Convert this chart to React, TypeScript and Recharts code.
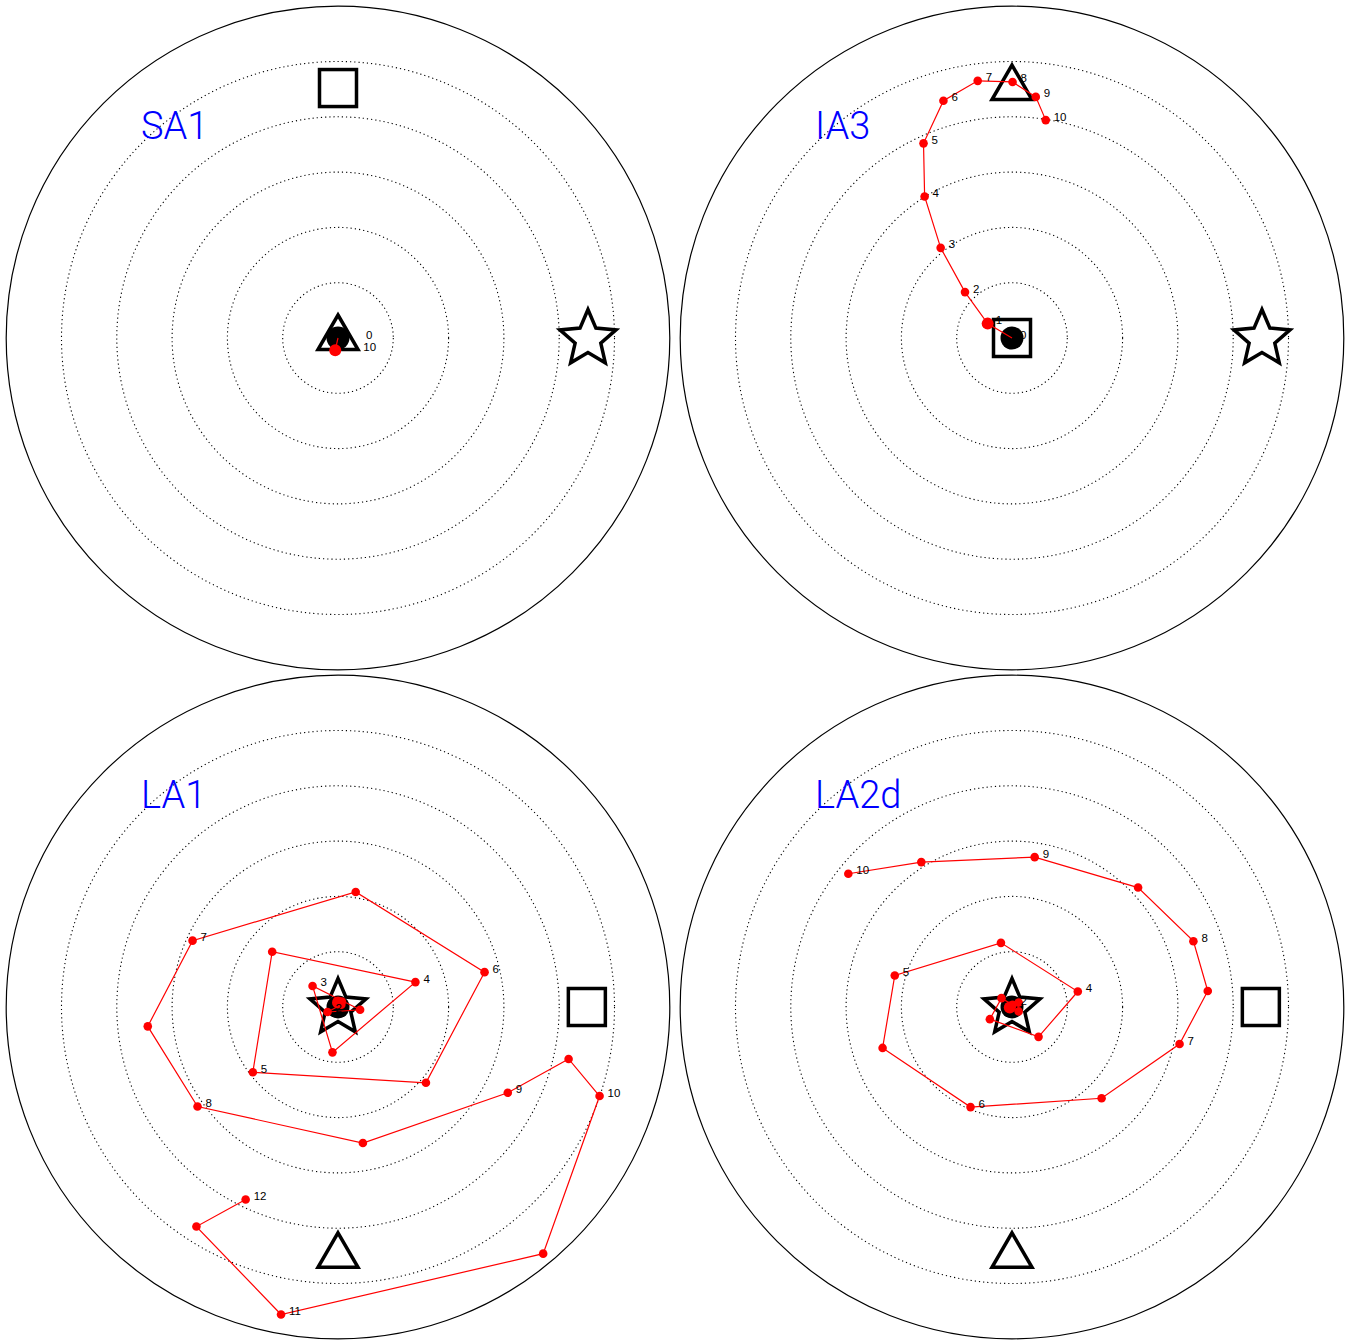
import React from 'react';
import { ScatterChart, Scatter, XAxis, YAxis, ReferenceDot } from 'recharts';

const SIZE = 676;
const LIM = 6.112;
const PX = SIZE / (2 * LIM);
const RINGS = [1, 2, 3, 4, 5];
const OUTER = 6;
const FONT = '"Liberation Sans", Arial, Helvetica, sans-serif';

// SA1
const sa1Steps = [0, 1, 2, 3, 4, 5, 6, 7, 8, 9, 10];
const sa1X = [0, -0.05, -0.04, -0.05, -0.05, -0.04, -0.05, -0.04, -0.05, -0.05, -0.05];
const sa1Y = [0, -0.22, -0.23, -0.22, -0.22, -0.23, -0.22, -0.22, -0.23, -0.22, -0.23];
const sa1Labeled = [0, 10];
const sa1MarkerKind = ['square', 'star', 'triangle'];
const sa1MarkerX = [0, 4.52, 0];
const sa1MarkerY = [4.52, 0, 0];

// IA3
const ia3Steps = [0, 1, 2, 3, 4, 5, 6, 7, 8, 9, 10];
const ia3X = [0, -0.44, -0.85, -1.29, -1.58, -1.6, -1.24, -0.62, 0.01, 0.43, 0.61];
const ia3Y = [0, 0.26, 0.83, 1.63, 2.56, 3.52, 4.29, 4.65, 4.63, 4.36, 3.94];
const ia3Labeled = [0, 1, 2, 3, 4, 5, 6, 7, 8, 9, 10];
const ia3MarkerKind = ['triangle', 'star', 'square'];
const ia3MarkerX = [0, 4.52, 0];
const ia3MarkerY = [4.52, 0, 0];

// LA1
const la1Steps = [0, 0.5, 1, 1.5, 2, 2.5, 3, 3.5, 4, 4.5, 5, 5.5, 6, 6.5, 7, 7.5, 8, 8.5, 9, 9.5, 10, 10.5, 11, 11.5, 12];
const la1X = [0, 0.07, 0.0, 0.06, -0.19, 0.4, -0.46, -0.1, 1.4, -1.19, -1.54, 1.59, 2.65, 0.32, -2.63, -3.44, -2.54, 0.45, 3.07, 4.17, 4.73, 3.71, -1.03, -2.56, -1.67];
const la1Y = [0, 0.1, 0.08, 0.04, -0.09, -0.05, 0.38, -0.82, 0.45, 1.0, -1.18, -1.37, 0.63, 2.08, 1.2, -0.35, -1.8, -2.46, -1.55, -0.94, -1.61, -4.46, -5.56, -3.97, -3.48];
const la1Labeled = [2, 3, 4, 5, 6, 7, 8, 9, 10, 11, 12];
const la1MarkerKind = ['square', 'triangle', 'star'];
const la1MarkerX = [4.5, 0, 0];
const la1MarkerY = [0, -4.5, 0];

// LA2d
const la2Steps = [0, 0.5, 1, 1.5, 2, 2.5, 3, 3.5, 4, 4.5, 5, 5.5, 6, 6.5, 7, 7.5, 8, 8.5, 9, 9.5, 10];
const la2X = [0, 0.12, -0.04, 0.12, 0.01, -0.19, -0.4, 0.48, 1.19, -0.2, -2.12, -2.34, -0.75, 1.62, 3.03, 3.54, 3.28, 2.28, 0.41, -1.64, -2.96];
const la2Y = [0, -0.08, -0.01, 0.08, 0.04, 0.16, -0.22, -0.54, 0.28, 1.16, 0.57, -0.74, -1.81, -1.65, -0.67, 0.29, 1.19, 2.16, 2.71, 2.62, 2.41];
const la2Labeled = [2, 4, 5, 6, 7, 8, 9, 10];
const la2MarkerKind = ['square', 'triangle', 'star'];
const la2MarkerX = [4.5, 0, 0];
const la2MarkerY = [0, -4.5, 0];

const starPath = (cx: number, cy: number, R: number, r: number) => {
  let d = '';
  for (let i = 0; i < 10; i++) {
    const rad = i % 2 === 0 ? R : r;
    const a = -Math.PI / 2 + (i * Math.PI) / 5;
    d += `${i === 0 ? 'M' : 'L'}${cx + rad * Math.cos(a)},${cy + rad * Math.sin(a)}`;
  }
  return d + 'Z';
};

const MarkerShape = (props: any) => {
  const { cx, cy, payload } = props;
  const common = { fill: 'none', stroke: '#000', strokeWidth: 3.5 };
  if (payload.kind === 'square') {
    return <rect x={cx - 18.5} y={cy - 18.5} width={37} height={37} {...common} />;
  }
  if (payload.kind === 'triangle') {
    return <path d={`M${cx},${cy - 23}L${cx + 20},${cy + 11.5}L${cx - 20},${cy + 11.5}Z`} {...common} />;
  }
  if (payload.kind === 'star') {
    return <path d={starPath(cx, cy + 1, 29.5, 13.5)} {...common} />;
  }
  return <circle cx={cx} cy={cy} r={11.5} fill="#000" />;
};

const makeDot = (labelDx: number, labeled: number[]) => (props: any) => {
  const { cx, cy, payload } = props;
  const r = payload.step === 1 ? 6 : 4.3;
  return (
    <g>
      {payload.step !== 0 && <circle cx={cx} cy={cy} r={r} fill="#ff0000" />}
      {labeled.includes(payload.step) && (
        <text x={cx + labelDx} y={cy - 3.5} fontSize={11.5} fontFamily={FONT} dominantBaseline="central" fill="#000">
          {payload.step}
        </text>
      )}
    </g>
  );
};

interface PanelProps {
  title: string;
  steps: number[];
  xs: number[];
  ys: number[];
  labeled: number[];
  labelDx: number;
  kinds: string[];
  mx: number[];
  my: number[];
  left: number;
  top: number;
}

const Panel = ({ title, steps, xs, ys, labeled, labelDx, kinds, mx, my, left, top }: PanelProps) => {
  const track = steps.map((s, i) => ({ step: s, x: xs[i], y: ys[i] }));
  const markers = kinds.map((k, i) => ({ kind: k, x: mx[i], y: my[i] }));
  const center = [{ kind: 'dot', x: 0, y: 0 }];
  return (
    <div style={{ position: 'absolute', left, top, width: SIZE, height: SIZE }}>
      <ScatterChart width={SIZE} height={SIZE} margin={{ top: 0, right: 0, bottom: 0, left: 0 }}>
        <XAxis type="number" dataKey="x" domain={[-LIM, LIM]} hide allowDataOverflow />
        <YAxis type="number" dataKey="y" domain={[-LIM, LIM]} hide allowDataOverflow />
        <ReferenceDot x={0} y={0} r={OUTER * PX} fill="none" stroke="#000" strokeWidth={1.2} />
        {RINGS.map((k) => (
          <ReferenceDot key={k} x={0} y={0} r={k * PX} fill="none" stroke="#000" strokeWidth={1.1} strokeDasharray="1.2 3" />
        ))}
        <Scatter data={markers} shape={MarkerShape} isAnimationActive={false} />
        <Scatter data={center} shape={MarkerShape} isAnimationActive={false} />
        <Scatter
          data={track}
          line={{ stroke: '#ff0000', strokeWidth: 1.2 }}
          shape={makeDot(labelDx, labeled)}
          isAnimationActive={false}
        />
      </ScatterChart>
      <svg width={SIZE} height={SIZE} style={{ position: 'absolute', left: 0, top: 0, pointerEvents: 'none' }}>
        <text x={141} y={139} fontSize={38} fontFamily='Roboto, "Liberation Sans", sans-serif' fontWeight={300} fill="#0000ff">
          {title}
        </text>
      </svg>
    </div>
  );
};

export default function App() {
  return (
    <div style={{ position: 'absolute', left: 0, top: 0, width: 1363, height: 1340, background: '#fff' }}>
      <Panel title="SA1" steps={sa1Steps} xs={sa1X} ys={sa1Y} labeled={sa1Labeled} labelDx={28}
        kinds={sa1MarkerKind} mx={sa1MarkerX} my={sa1MarkerY} left={0} top={0} />
      <Panel title="IA3" steps={ia3Steps} xs={ia3X} ys={ia3Y} labeled={ia3Labeled} labelDx={8}
        kinds={ia3MarkerKind} mx={ia3MarkerX} my={ia3MarkerY} left={674} top={0} />
      <Panel title="LA1" steps={la1Steps} xs={la1X} ys={la1Y} labeled={la1Labeled} labelDx={8}
        kinds={la1MarkerKind} mx={la1MarkerX} my={la1MarkerY} left={0} top={669} />
      <Panel title="LA2d" steps={la2Steps} xs={la2X} ys={la2Y} labeled={la2Labeled} labelDx={8}
        kinds={la2MarkerKind} mx={la2MarkerX} my={la2MarkerY} left={674} top={669} />
    </div>
  );
}
